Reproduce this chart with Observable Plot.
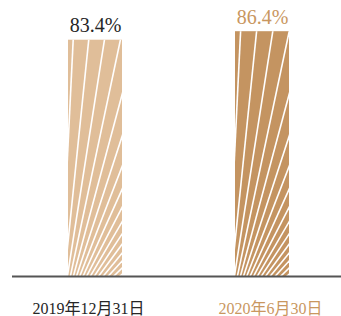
<!DOCTYPE html>
<html>
<head>
<meta charset="utf-8">
<script src="https://cdn.jsdelivr.net/npm/d3@7"></script>
<script src="https://cdn.jsdelivr.net/npm/@observablehq/plot@0.6"></script>
<style>
  html, body { margin: 0; padding: 0; background: #fff; }
  #chart svg { display: block; }
  #chart svg text { font-family: "Liberation Serif", "Times New Roman", Times, "DejaVu Serif", serif, "Noto Sans CJK SC" !important; }
</style>
</head>
<body>
<div id="chart"></div>
<script>
const categories = ["2019年12月31日", "2020年6月30日"];
const values = [83.4, 86.4];
const valueLabels = ["83.4%", "86.4%"];

const barColors = ["#e0be99", "#c49461"];
const valueTextColors = ["#262626", "#c9975f"];
const axisTextColors = ["#262626", "#c9975f"];
const axisLabelShift = [-7, 8];

const data = categories.map((c, i) => ({
  cat: c, value: values[i], label: valueLabels[i],
  fill: barColors[i], vcol: valueTextColors[i], acol: axisTextColors[i]
}));

const fontFamily = '"Liberation Serif", "Times New Roman", Times, serif, "Noto Sans CJK SC"';

const chart = Plot.plot({
  width: 341,
  height: 316,
  marginTop: 21,
  marginBottom: 40,
  marginLeft: 12,
  marginRight: 0,
  style: { background: "#fff" },
  x: { domain: categories, paddingInner: 0.6786, paddingOuter: 0.3185, align: 0.514, axis: null },
  y: { domain: [0, 90], axis: null },
  color: { type: "identity" },
  marks: [
    Plot.barY(data, { x: "cat", y: "value", fill: "fill", className: "fanbar" }),
    Plot.ruleY([0], { stroke: "#555555", strokeWidth: 2 }),
    Plot.text(data, { x: "cat", y: "value", text: "label", fill: "vcol", fontSize: 20, fontFamily, lineAnchor: "bottom", dy: -8 }),
    ...data.map((d, i) => Plot.text([d], { x: "cat", y: () => 0, text: "cat", fill: "acol", fontSize: 16, fontFamily, lineAnchor: "bottom", dy: 37, dx: axisLabelShift[i] }))
  ]
});

document.getElementById("chart").appendChild(chart);

// Radiating white stripes inside each bar, anchored to the bar's rendered geometry
const svg = d3.select(chart);
let defs = svg.select("defs");
if (defs.empty()) defs = svg.insert("defs", ":first-child");
svg.selectAll(".fanbar rect").each(function (d, i) {
  const r = d3.select(this);
  const x = +r.attr("x"), y = +r.attr("y"), w = +r.attr("width"), h = +r.attr("height");
  const id = "fanclip" + i;
  defs.append("clipPath").attr("id", id)
    .append("rect").attr("x", x).attr("y", y).attr("width", w).attr("height", h);
  const ox = x - 9, oy = y + h + 54;
  const g = d3.select(this.parentNode).append("g").attr("clip-path", `url(#${id})`);
  for (let k = 0; k < 20; k++) {
    const a = (2.8 + k * 3.05) * Math.PI / 180;
    const L = 420;
    g.append("line")
      .attr("x1", ox).attr("y1", oy)
      .attr("x2", ox + L * Math.sin(a)).attr("y2", oy - L * Math.cos(a))
      .attr("stroke", "#fff").attr("stroke-width", 1.6);
  }
});
</script>
</body>
</html>
